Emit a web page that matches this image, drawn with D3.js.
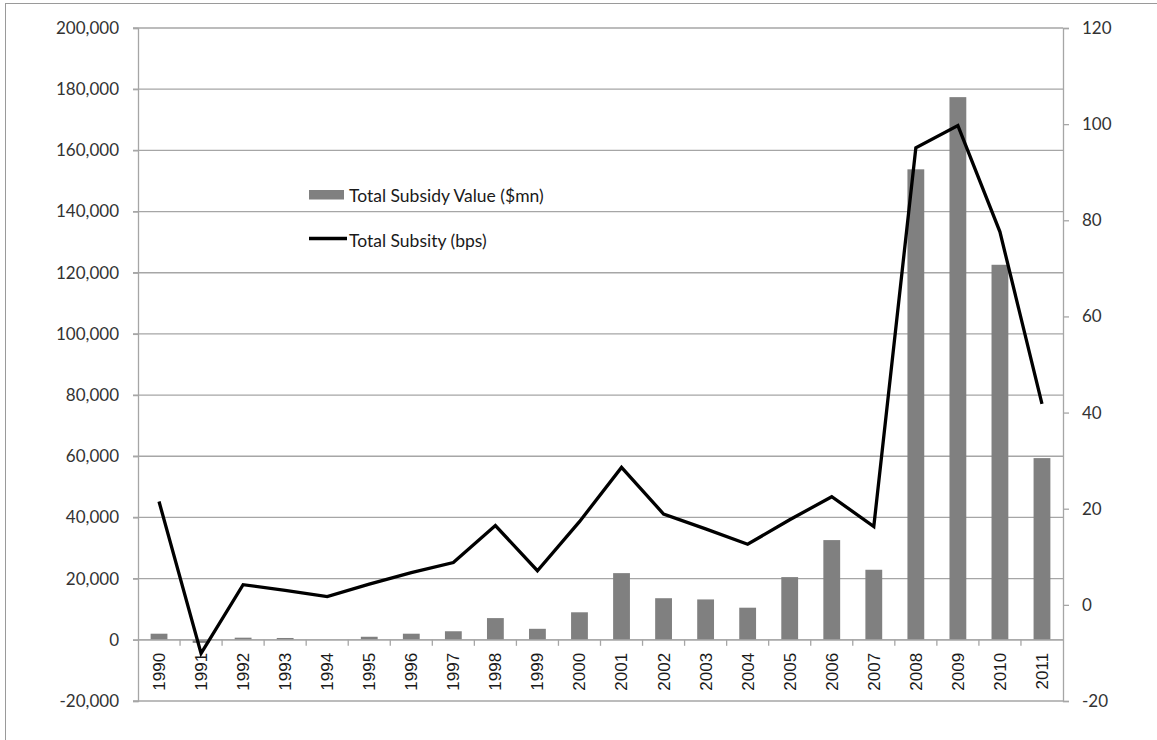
<!DOCTYPE html>
<html>
<head>
<meta charset="utf-8">
<script src="https://cdn.jsdelivr.net/npm/d3@7"></script>
<style>
  body { margin: 0; background: #fff; }
  svg { display: block; }
</style>
</head>
<body>
<div id="chart"></div>
<script>
// data
var years = ['1990', '1991', '1992', '1993', '1994', '1995', '1996', '1997', '1998', '1999', '2000',
             '2001', '2002', '2003', '2004', '2005', '2006', '2007', '2008', '2009', '2010', '2011'];
var subsidyValue = [2000, -1000, 700, 600, 0, 1000, 2000, 2800, 7100, 3600, 9000,
                    21800, 13600, 13200, 10500, 20500, 32600, 22900, 153800, 177400, 122600, 59400];
var subsidyBps = [21.5, -10.1, 4.2, 3.0, 1.7, 4.3, 6.7, 8.8, 16.5, 7.1, 17.3,
                  28.6, 18.9, 15.8, 12.6, 17.7, 22.5, 16.3, 95.1, 99.7, 77.6, 41.8];
var leftTicks = [-20000, 0, 20000, 40000, 60000, 80000, 100000, 120000, 140000, 160000, 180000, 200000];
var rightTicks = [-20, 0, 20, 40, 60, 80, 100, 120];
var seriesNames = ['Total Subsidy Value ($mn)', 'Total Subsity (bps)'];

var width = 1157,
    height = 740,
    margin = { top: 28, right: 94, bottom: 39, left: 138 },
    gridColor = '#a6a6a6',
    barColor = '#808080',
    textColor = '#333333';

// excel style numbers: plain hyphen for negatives
var fmt = function(d) { return d3.format(',')(d).replace('\u2212', '-'); };

var svg = d3.select('#chart').append('svg')
    .attr('width', width)
    .attr('height', height);

// outer frame (only left and top edges show in the picture)
svg.append('rect')
    .attr('x', 5.5).attr('y', 3.5)
    .attr('width', width + 10).attr('height', height + 10)
    .attr('fill', 'none')
    .attr('stroke', '#9a9a9a')
    .attr('stroke-width', 1);

var x = d3.scaleBand()
    .domain(years)
    .range([margin.left, width - margin.right])
    .paddingInner(0.6)
    .paddingOuter(0.3);

var yLeft = d3.scaleLinear()
    .domain([-20000, 200000])
    .range([height - margin.bottom, margin.top]);

var yRight = d3.scaleLinear()
    .domain([-20, 120])
    .range([height - margin.bottom, margin.top]);

// horizontal gridlines on the left axis values
svg.append('g').selectAll('line')
    .data(leftTicks)
    .enter().append('line')
    .attr('x1', margin.left - 5)
    .attr('x2', width - margin.right)
    .attr('y1', function(d) { return yLeft(d); })
    .attr('y2', function(d) { return yLeft(d); })
    .attr('stroke', gridColor)
    .attr('stroke-width', 1.3);

// left axis
var leftAxis = svg.append('g')
    .attr('transform', 'translate(' + margin.left + ',0)')
    .call(d3.axisLeft(yLeft).tickValues(leftTicks).tickSize(5).tickPadding(14)
        .tickFormat(fmt));
leftAxis.select('.domain').attr('stroke', gridColor).attr('stroke-width', 1.3);
leftAxis.selectAll('.tick line').attr('stroke', gridColor).attr('stroke-width', 1.3);
leftAxis.selectAll('text')
    .attr('fill', textColor)
    .style('font-family', 'Lato, sans-serif')
    .style('font-size', '17px');

// right axis
var rightAxis = svg.append('g')
    .attr('transform', 'translate(' + (width - margin.right) + ',0)')
    .call(d3.axisRight(yRight).tickValues(rightTicks).tickSize(6).tickPadding(13)
        .tickFormat(fmt));
rightAxis.select('.domain').attr('stroke', gridColor).attr('stroke-width', 1.3);
rightAxis.selectAll('.tick line').attr('stroke', gridColor).attr('stroke-width', 1.3);
rightAxis.selectAll('text')
    .attr('fill', textColor)
    .style('font-family', 'Lato, sans-serif')
    .style('font-size', '17px');

// bars
svg.append('g').selectAll('rect')
    .data(subsidyValue)
    .enter().append('rect')
    .attr('x', function(d, i) { return x(years[i]); })
    .attr('width', x.bandwidth())
    .attr('y', function(d) { return yLeft(Math.max(0, d)); })
    .attr('height', function(d) { return Math.abs(yLeft(d) - yLeft(0)); })
    .attr('fill', barColor);

// category axis sitting on zero
var zeroY = yLeft(0);
svg.append('line')
    .attr('x1', margin.left).attr('x2', width - margin.right)
    .attr('y1', zeroY).attr('y2', zeroY)
    .attr('stroke', gridColor).attr('stroke-width', 1.3);

svg.append('g').selectAll('line')
    .data(years.slice(0, -1))
    .enter().append('line')
    .attr('x1', function(d) { return x(d) + x.bandwidth() / 2 + x.step() / 2; })
    .attr('x2', function(d) { return x(d) + x.bandwidth() / 2 + x.step() / 2; })
    .attr('y1', zeroY).attr('y2', zeroY + 6)
    .attr('stroke', gridColor).attr('stroke-width', 1.3);

svg.append('g').selectAll('text')
    .data(years)
    .enter().append('text')
    .attr('transform', function(d) {
        return 'translate(' + (x(d) + x.bandwidth() / 2) + ',' + (zeroY + 13) + ') rotate(-90)';
    })
    .attr('text-anchor', 'end')
    .attr('dy', '0.35em')
    .attr('fill', '#1a1a1a')
    .style('font-family', 'Liberation Sans, Arial, sans-serif')
    .style('font-size', '17px')
    .text(function(d) { return d; });

// bps line
var line = d3.line()
    .x(function(d, i) { return x(years[i]) + x.bandwidth() / 2; })
    .y(function(d) { return yRight(d); });

svg.append('path')
    .datum(subsidyBps)
    .attr('d', line)
    .attr('fill', 'none')
    .attr('stroke', '#000')
    .attr('stroke-width', 3.3)
    .attr('stroke-linejoin', 'miter');

// legend
var legend = svg.append('g')
    .attr('transform', 'translate(309,0)');

legend.append('rect')
    .attr('x', 0).attr('y', 190)
    .attr('width', 35).attr('height', 9.5)
    .attr('fill', barColor);

legend.append('line')
    .attr('x1', 0).attr('x2', 38)
    .attr('y1', 238.5).attr('y2', 238.5)
    .attr('stroke', '#000')
    .attr('stroke-width', 3.3);

legend.selectAll('text')
    .data(seriesNames)
    .enter().append('text')
    .attr('x', 40)
    .attr('y', function(d, i) { return i === 0 ? 201.5 : 246.5; })
    .attr('fill', '#1a1a1a')
    .style('font-family', 'Lato, sans-serif')
    .style('font-size', '17.5px')
    .text(function(d) { return d; });
</script>
</body>
</html>
